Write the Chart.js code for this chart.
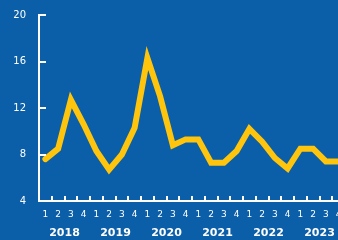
<!DOCTYPE html>
<html>
<head>
<meta charset="utf-8">
<script src="https://cdn.jsdelivr.net/npm/chart.js@4"></script>
<style>
    html, body { margin: 0; padding: 0; overflow: hidden; background: #0b5ea8; }
    #wrap { width: 338px; height: 240px; overflow: hidden; }
</style>
</head>
<body>
<div id="wrap"><canvas id="myChart" width="352" height="240"></canvas></div>
<script>
'use strict';
let years = ['2018', '2019', '2020', '2021', '2022', '2023'];
let quarters = ['1', '2', '3', '4'];
let values = [
    7.6, 8.5, 12.7, 10.6,
    8.3, 6.7, 8.0, 10.3,
    16.3, 13.0, 8.8, 9.3,
    9.3, 7.3, 7.3, 8.3,
    10.2, 9.1, 7.7, 6.8,
    8.5, 8.5, 7.4, 7.4
];
let yTicks = [4, 8, 12, 16, 20];

let lineColor = '#ffc40c';
let fontFamily = '"DejaVu Sans", Verdana, sans-serif';
let labels = [];
for (let i = 0; i < years.length; i++) {
    for (let j = 0; j < quarters.length; j++) {
        labels.push(quarters[j]);
    }
}

// inward tick marks + year row under the quarters
let extras = {
    id: 'extras',
    afterDraw(chart) {
        let ctx = chart.ctx;
        let x = chart.scales.x;
        let y = chart.scales.y;
        let area = chart.chartArea;
        ctx.save();
        ctx.fillStyle = '#ffffff';
        for (let i = 1; i < yTicks.length; i++) {
            let py = Math.round(y.getPixelForValue(yTicks[i]));
            ctx.fillRect(area.left, py - 1, 7, 2);
        }
        for (let i = 0; i < labels.length - 1; i++) {
            let px = Math.round((x.getPixelForValue(i) + x.getPixelForValue(i + 1)) / 2);
            ctx.fillRect(px - 1, area.bottom - 5, 2, 5);
        }
        ctx.font = 'bold 11px ' + fontFamily;
        ctx.textAlign = 'center';
        ctx.textBaseline = 'middle';
        for (let k = 0; k < years.length; k++) {
            let cx = (x.getPixelForValue(k * 4 + 1) + x.getPixelForValue(k * 4 + 2)) / 2;
            ctx.fillText(years[k], cx, 233);
        }
        ctx.restore();
    }
};

let ctx = document.getElementById('myChart').getContext('2d');
let chart = new Chart(ctx, {
    type: 'line',
    data: {
        labels: labels,
        datasets: [{
            data: values,
            borderColor: lineColor,
            borderWidth: 6,
            borderJoinStyle: 'miter',
            borderCapStyle: 'round',
            pointRadius: 0,
            tension: 0,
            fill: false
        }]
    },
    options: {
        responsive: false,
        animation: false,
        layout: { padding: { top: 15, right: 7, left: 0, bottom: 0 } },
        plugins: { legend: { display: false }, tooltip: { enabled: false } },
        scales: {
            x: {
                offset: true,
                grid: { display: false },
                border: { display: true, color: '#ffffff', width: 2 },
                ticks: {
                    color: '#ffffff',
                    font: { size: 9, family: fontFamily },
                    padding: 0,
                    maxRotation: 0,
                    autoSkip: false
                },
                afterFit(scale) { scale.height = 39; }
            },
            y: {
                min: 4,
                max: 20,
                grid: { display: false },
                border: { display: true, color: '#ffffff', width: 2 },
                ticks: {
                    stepSize: 4,
                    color: '#ffffff',
                    font: { size: 10, family: fontFamily },
                    padding: 5
                },
                afterFit(scale) { scale.width = 39; }
            }
        }
    },
    plugins: [extras]
});
</script>
</body>
</html>
